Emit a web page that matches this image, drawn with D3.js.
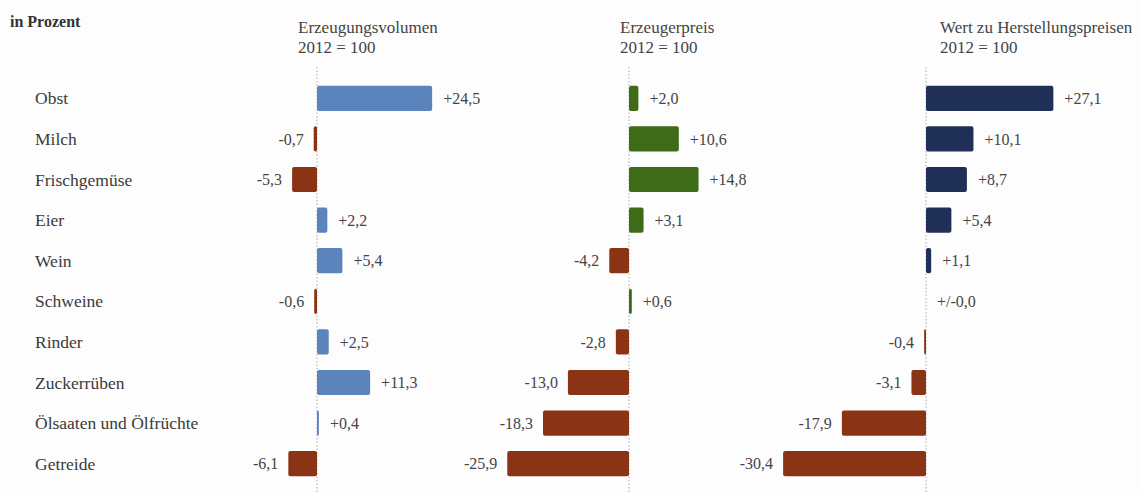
<!DOCTYPE html>
<html lang="de">
<head>
<meta charset="utf-8">
<script src="https://cdn.jsdelivr.net/npm/d3@7"></script>
<style>
  html, body { margin: 0; padding: 0; background: #fdfdfd; }
  svg { display: block; }
  text { font-family: "Liberation Serif", "DejaVu Serif", serif; }
</style>
</head>
<body>
<svg id="chart" width="1139" height="494"></svg>
<script>
// Produkte (Zeilen von oben nach unten)
const categories = [
  "Obst", "Milch", "Frischgemüse", "Eier", "Wein",
  "Schweine", "Rinder", "Zuckerrüben", "Ölsaaten und Ölfrüchte", "Getreide"
];

// Veränderung in Prozent, 2012 = 100
const erzeugungsvolumen = [24.5, -0.7, -5.3, 2.2, 5.4, -0.6, 2.5, 11.3, 0.4, -6.1];
const erzeugerpreis     = [2.0, 10.6, 14.8, 3.1, -4.2, 0.6, -2.8, -13.0, -18.3, -25.9];
const wertHerstellung   = [27.1, 10.1, 8.7, 5.4, 1.1, 0.0, -0.4, -3.1, -17.9, -30.4];

const panelTitles = ["Erzeugungsvolumen", "Erzeugerpreis", "Wert zu Herstellungspreisen"];
const panelSubtitle = "2012 = 100";
const unitLabel = "in Prozent";

const panels = [
  { title: panelTitles[0], values: erzeugungsvolumen, color: "#5b84bd", zero: 317, titleX: 298 },
  { title: panelTitles[1], values: erzeugerpreis,     color: "#3e6b18", zero: 629, titleX: 620 },
  { title: panelTitles[2], values: wertHerstellung,   color: "#1f2f55", zero: 926, titleX: 940 }
];
const negColor = "#8b3415";
const textColor = "#444";

const svg = d3.select("#chart");

// Zeilen
const y = d3.scaleBand()
  .domain(categories)
  .range([78, 484])
  .paddingInner(0.38)
  .paddingOuter(0.19);

// Gemeinsamer Maßstab: 4,7 px je Prozentpunkt
const pxPerUnit = 4.7;
const extent = 35;

// Einheit
svg.append("text")
  .attr("x", 10).attr("y", 27)
  .attr("font-size", 16)
  .attr("font-weight", "bold")
  .attr("fill", "#333")
  .text(unitLabel);

// Kategorien
svg.append("g")
  .selectAll("text")
  .data(categories)
  .join("text")
  .attr("x", 35)
  .attr("y", d => y(d) + y.bandwidth() / 2)
  .attr("dy", "0.35em")
  .attr("font-size", 17.5)
  .attr("fill", "#3a3a3a")
  .text(d => d);

const fmt = v => {
  const s = Math.abs(v).toFixed(1).replace(".", ",");
  if (v === 0) return "+/-" + s;
  return (v > 0 ? "+" : "-") + s;
};

panels.forEach(p => {
  const x = d3.scaleLinear()
    .domain([-extent, extent])
    .range([p.zero - extent * pxPerUnit, p.zero + extent * pxPerUnit]);

  const g = svg.append("g");

  // Titel
  const t = g.append("text")
    .attr("x", p.titleX)
    .attr("font-size", 17)
    .attr("fill", textColor);
  t.append("tspan").attr("x", p.titleX).attr("y", 33).text(p.title);
  t.append("tspan").attr("x", p.titleX).attr("y", 53).text(panelSubtitle);

  // Nulllinie
  g.append("line")
    .attr("x1", x(0)).attr("x2", x(0))
    .attr("y1", 67).attr("y2", 494)
    .attr("stroke", "#a8a8a8")
    .attr("stroke-width", 1)
    .attr("stroke-dasharray", "1.5,2");

  const rows = categories.map((c, i) => ({ c, v: p.values[i] }));

  // Balken
  g.selectAll("rect")
    .data(rows.filter(d => d.v !== 0))
    .join("rect")
    .attr("x", d => Math.min(x(0), x(d.v)))
    .attr("y", d => y(d.c))
    .attr("width", d => Math.abs(x(d.v) - x(0)))
    .attr("height", y.bandwidth())
    .attr("rx", 2)
    .attr("fill", d => d.v < 0 ? negColor : p.color);

  // Werte
  g.selectAll("text.val")
    .data(rows)
    .join("text")
    .attr("class", "val")
    .attr("x", d => d.v < 0 ? x(d.v) - 10 : x(d.v) + 11)
    .attr("y", d => y(d.c) + y.bandwidth() / 2)
    .attr("dy", "0.35em")
    .attr("text-anchor", d => d.v < 0 ? "end" : "start")
    .attr("font-size", 16)
    .attr("fill", textColor)
    .text(d => fmt(d.v));
});
</script>
</body>
</html>
